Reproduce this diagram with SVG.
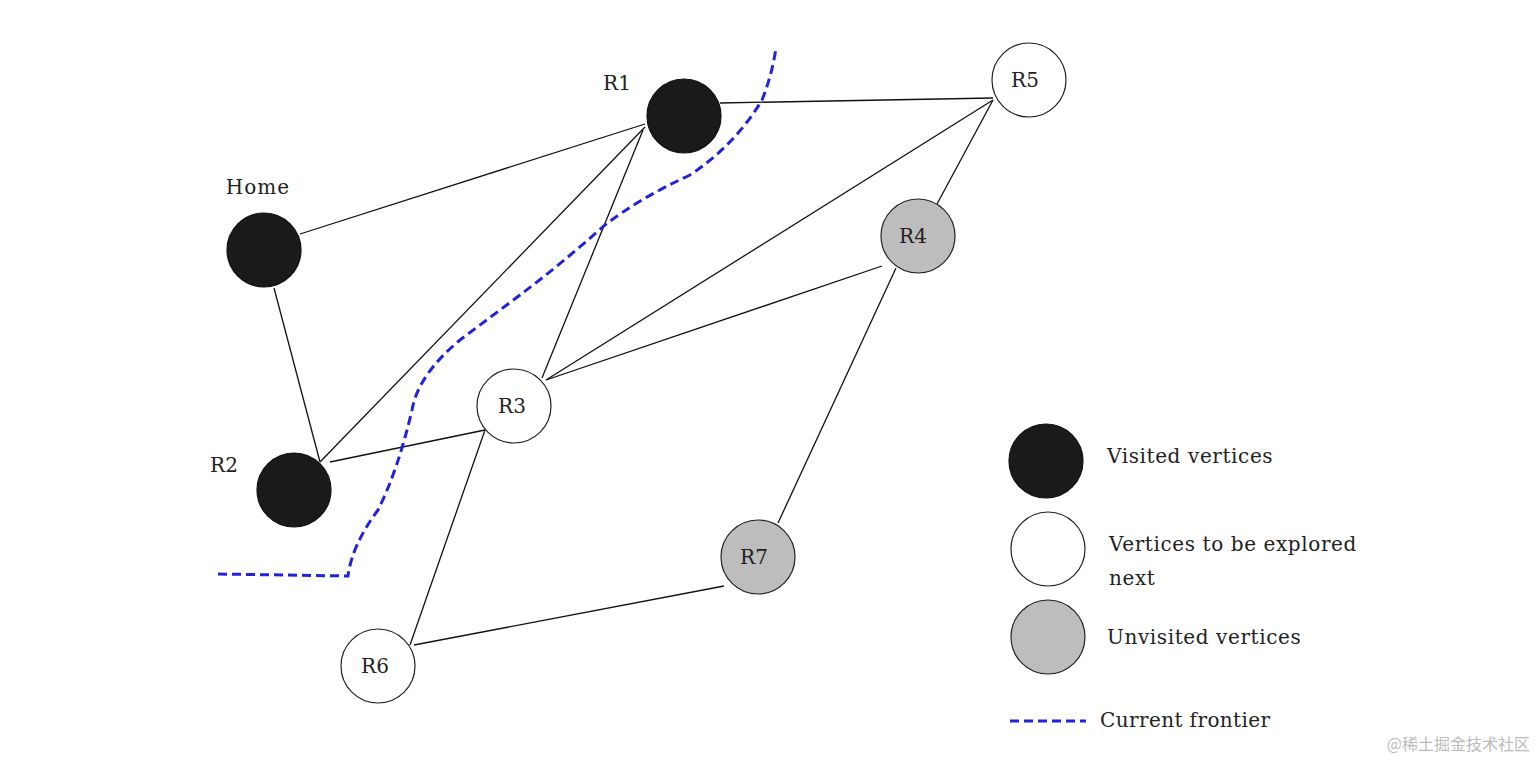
<svg xmlns="http://www.w3.org/2000/svg" width="1537" height="761" viewBox="0 0 1537 761">
<style>
text{font-family:"DejaVu Serif","Liberation Serif",serif;font-size:20px;fill:#222}
.c{text-anchor:middle;dominant-baseline:central}
.v{fill:#1a1a1a;stroke:#111;stroke-width:1.2}
.e{fill:#fff;stroke:#222;stroke-width:1.2}
.u{fill:#bdbdbd;stroke:#222;stroke-width:1.2}
#edges line{stroke:#111;stroke-width:1.3}
.f{fill:none;stroke:#2222dd;stroke-width:3;stroke-dasharray:9,5}
</style>
<rect width="1537" height="761" fill="#fff"/>
<g id="edges">
<line x1="300" y1="234" x2="645" y2="124"/>
<line x1="274" y1="288" x2="320" y2="462"/>
<line x1="320" y1="462" x2="645" y2="127"/>
<line x1="330" y1="462" x2="485" y2="430"/>
<line x1="643" y1="130" x2="542" y2="378"/>
<line x1="720" y1="103" x2="993" y2="98"/>
<line x1="546" y1="380" x2="993" y2="100"/>
<line x1="546" y1="380" x2="882" y2="266"/>
<line x1="937" y1="204" x2="993" y2="100"/>
<line x1="896" y1="268" x2="778" y2="523"/>
<line x1="485" y1="430" x2="410" y2="645"/>
<line x1="414" y1="645" x2="724" y2="586"/>
</g>
<path id="frontier" class="f" d="M218,574 L348,576 Q352,545 378,510 Q398,470 412,410 Q418,375 460,340 L520,295 Q560,265 605,225 Q640,198 690,175 Q735,145 762,100 Q772,75 776,48"/>
<g id="home"><circle class="v" cx="264" cy="250" r="37"/><text x="258" y="187" class="c" style="letter-spacing:1px">Home</text></g>
<g id="r1"><circle class="v" cx="684" cy="116" r="37"/><text x="617" y="83" class="c">R1</text></g>
<g id="r2"><circle class="v" cx="294" cy="490" r="37"/><text x="224" y="465" class="c">R2</text></g>
<g id="r3"><circle class="e" cx="514" cy="406" r="37"/><text x="512" y="406" class="c">R3</text></g>
<g id="r4"><circle class="u" cx="918" cy="236" r="37"/><text x="913" y="236" class="c">R4</text></g>
<g id="r5"><circle class="e" cx="1029" cy="80" r="37"/><text x="1025" y="80" class="c">R5</text></g>
<g id="r6"><circle class="e" cx="378" cy="666" r="37"/><text x="375" y="666" class="c">R6</text></g>
<g id="r7"><circle class="u" cx="758" cy="557" r="37"/><text x="754" y="557" class="c">R7</text></g>
<g id="legend">
<circle class="v" cx="1046" cy="461" r="37"/><text x="1107" y="463" style="letter-spacing:0.6px">Visited vertices</text>
<circle class="e" cx="1048" cy="549" r="37"/><text x="1109" y="551" style="letter-spacing:0.6px">Vertices to be explored</text><text x="1109" y="585" style="letter-spacing:0.6px">next</text>
<circle class="u" cx="1048" cy="637" r="37"/><text x="1107" y="644" style="letter-spacing:0.6px">Unvisited vertices</text>
<line x1="1010" y1="721" x2="1086" y2="721" class="f"/><text x="1100" y="727" style="letter-spacing:0.4px">Current frontier</text>
</g>
<text x="1530" y="750" style="font-family:'Noto Sans CJK SC',sans-serif;font-size:16px;fill:#bbb;text-anchor:end">@稀土掘金技术社区</text>
</svg>
